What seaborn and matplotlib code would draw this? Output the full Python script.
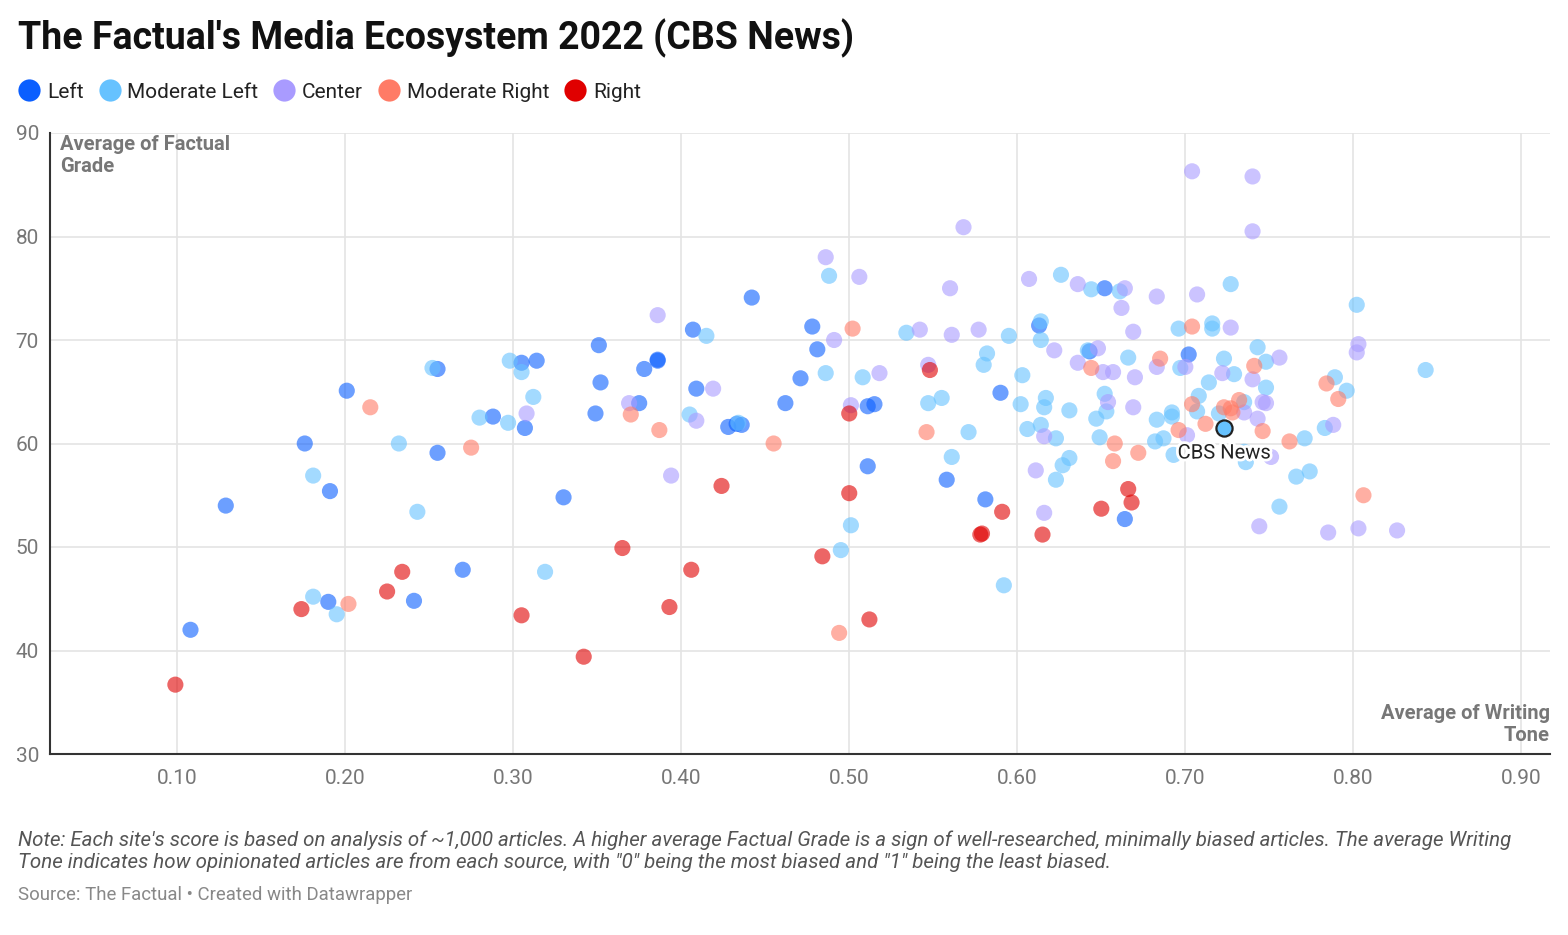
import pandas as pd
import matplotlib.pyplot as plt
import matplotlib.patheffects as pe
from matplotlib.lines import Line2D
import seaborn as sns

# categories and colours
categories = ['Left', 'Moderate Left', 'Center', 'Moderate Right', 'Right']
colors = ['#0b5fff', '#66c2ff', '#a99bff', '#ff7b66', '#e00000']

# Left
left_x = [0.201, 0.255, 0.305, 0.314, 0.288, 0.307, 0.176, 0.255, 0.129, 0.191,
          0.270, 0.190, 0.241, 0.108, 0.330, 0.351, 0.352, 0.349, 0.378, 0.375,
          0.386, 0.386, 0.407, 0.409, 0.428, 0.433, 0.436, 0.442, 0.462, 0.471,
          0.478, 0.481, 0.511, 0.515, 0.511, 0.558, 0.581, 0.590, 0.613, 0.643,
          0.652, 0.664, 0.702]
left_y = [65.1, 67.2, 67.8, 68.0, 62.6, 61.5, 60.0, 59.1, 54.0, 55.4,
          47.8, 44.7, 44.8, 42.0, 54.8, 69.5, 65.9, 62.9, 67.2, 63.9,
          68.1, 68.0, 71.0, 65.3, 61.6, 61.9, 61.8, 74.1, 63.9, 66.3,
          71.3, 69.1, 63.6, 63.8, 57.8, 56.5, 54.6, 64.9, 71.4, 68.9,
          75.0, 52.7, 68.6]

# Moderate Left
modleft_x = [0.488, 0.415, 0.486, 0.508, 0.534, 0.582, 0.580, 0.595, 0.614, 0.614,
             0.603, 0.547, 0.555, 0.602, 0.617, 0.616, 0.571, 0.606, 0.614, 0.623,
             0.626, 0.405, 0.434, 0.561, 0.252, 0.298, 0.305, 0.312, 0.280, 0.297,
             0.232, 0.181, 0.243, 0.181, 0.195, 0.319, 0.501, 0.495, 0.592, 0.623,
             0.627, 0.631, 0.693, 0.736, 0.766, 0.774, 0.756, 0.771, 0.644, 0.661,
             0.631, 0.652, 0.653, 0.647, 0.649, 0.727, 0.696, 0.716, 0.716, 0.802,
             0.843, 0.743, 0.723, 0.748, 0.729, 0.666, 0.642, 0.697, 0.714, 0.748,
             0.789, 0.796, 0.783, 0.708, 0.707, 0.683, 0.692, 0.692, 0.682, 0.687,
             0.735, 0.720, 0.735]
modleft_y = [76.2, 70.4, 66.8, 66.4, 70.7, 68.7, 67.6, 70.4, 71.8, 70.0,
             66.6, 63.9, 64.4, 63.8, 64.4, 63.5, 61.1, 61.4, 61.8, 60.5,
             76.3, 62.8, 62.0, 58.7, 67.3, 68.0, 66.9, 64.5, 62.5, 62.0,
             60.0, 56.9, 53.4, 45.2, 43.5, 47.6, 52.1, 49.7, 46.3, 56.5,
             57.9, 58.6, 58.9, 58.2, 56.8, 57.3, 53.9, 60.5, 74.9, 74.7,
             63.2, 64.8, 63.1, 62.4, 60.6, 75.4, 71.1, 71.6, 71.1, 73.4,
             67.1, 69.3, 68.2, 67.9, 66.7, 68.3, 69.0, 67.3, 65.9, 65.4,
             66.4, 65.1, 61.5, 64.6, 63.1, 62.3, 63.0, 62.6, 60.2, 60.5,
             64.0, 62.9, 59.2]

# Center
center_x = [0.386, 0.369, 0.419, 0.409, 0.486, 0.506, 0.491, 0.518, 0.501, 0.568,
            0.560, 0.542, 0.561, 0.577, 0.547, 0.607, 0.622, 0.616, 0.394, 0.308,
            0.636, 0.664, 0.662, 0.648, 0.636, 0.657, 0.651, 0.654, 0.611, 0.704,
            0.740, 0.740, 0.683, 0.707, 0.669, 0.727, 0.670, 0.683, 0.700, 0.756,
            0.740, 0.722, 0.669, 0.748, 0.746, 0.743, 0.735, 0.701, 0.803, 0.802,
            0.788, 0.744, 0.785, 0.803, 0.826, 0.751, 0.616]
center_y = [72.4, 63.9, 65.3, 62.2, 78.0, 76.1, 70.0, 66.8, 63.7, 80.9,
            75.0, 71.0, 70.5, 71.0, 67.6, 75.9, 69.0, 60.7, 56.9, 62.9,
            75.4, 75.0, 73.1, 69.2, 67.8, 66.9, 66.9, 64.0, 57.4, 86.3,
            85.8, 80.5, 74.2, 74.4, 70.8, 71.2, 66.4, 67.4, 67.4, 68.3,
            66.2, 66.8, 63.5, 63.9, 64.0, 62.4, 63.0, 60.8, 69.6, 68.8,
            61.8, 52.0, 51.4, 51.8, 51.6, 58.7, 53.3]

# Moderate Right
modright_x = [0.215, 0.275, 0.202, 0.370, 0.387, 0.455, 0.502, 0.546, 0.494, 0.644,
              0.658, 0.657, 0.704, 0.685, 0.741, 0.784, 0.791, 0.704, 0.732, 0.723,
              0.727, 0.728, 0.712, 0.746, 0.762, 0.696, 0.672, 0.806]
modright_y = [63.5, 59.6, 44.5, 62.8, 61.3, 60.0, 71.1, 61.1, 41.7, 67.3,
              60.0, 58.3, 71.3, 68.2, 67.5, 65.8, 64.3, 63.8, 64.2, 63.5,
              63.4, 63.0, 61.9, 61.2, 60.2, 61.3, 59.1, 55.0]

# Right
right_x = [0.099, 0.174, 0.225, 0.234, 0.305, 0.342, 0.365, 0.393, 0.406, 0.424,
           0.484, 0.500, 0.512, 0.578, 0.579, 0.591, 0.615, 0.548, 0.500, 0.650,
           0.666, 0.668]
right_y = [36.7, 44.0, 45.7, 47.6, 43.4, 39.4, 49.9, 44.2, 47.8, 55.9,
           49.1, 55.2, 43.0, 51.2, 51.3, 53.4, 51.2, 67.1, 62.9, 53.7,
           55.6, 54.3]

# highlighted site
cbs_x = 0.723
cbs_y = 61.5

x_ticks = [0.10, 0.20, 0.30, 0.40, 0.50, 0.60, 0.70, 0.80, 0.90]
y_ticks = [30, 40, 50, 60, 70, 80, 90]

frames = []
for cat, xs, ys in zip(categories,
                       [left_x, modleft_x, center_x, modright_x, right_x],
                       [left_y, modleft_y, center_y, modright_y, right_y]):
    frames.append(pd.DataFrame({'tone': xs, 'grade': ys, 'bias': cat}))
df = pd.concat(frames, ignore_index=True)

sns.set_style('white')
plt.rcParams['font.family'] = ['Roboto', 'DejaVu Sans']

fig = plt.figure(figsize=(15.68, 9.35), dpi=100)
ax = fig.add_axes([50 / 1568, 1 - 754 / 935, 1500 / 1568, 621 / 935])

sns.scatterplot(data=df, x='tone', y='grade', hue='bias', hue_order=categories,
                palette=colors, s=135, alpha=0.6, linewidth=0, legend=False,
                ax=ax, zorder=3)
ax.scatter([cbs_x], [cbs_y], s=135, color='#66c2ff', edgecolor='#222222',
           linewidth=1.6, zorder=5)
ax.text(cbs_x, cbs_y - 1.5, 'CBS News', ha='center', va='top', fontsize=14.5,
        color='#222222', zorder=6,
        path_effects=[pe.withStroke(linewidth=4, foreground='white')])

ax.set_xlim(0.0244, 0.917)
ax.set_ylim(30, 90)
ax.set_xticks(x_ticks)
ax.set_xticklabels([f'{t:.2f}' for t in x_ticks])
ax.set_yticks(y_ticks)
ax.grid(True, color='#e4e4e4', linewidth=1.2, zorder=0)
ax.set_axisbelow(True)
for side in ['top', 'right']:
    ax.spines[side].set_visible(False)
for side in ['left', 'bottom']:
    ax.spines[side].set_color('#333333')
    ax.spines[side].set_linewidth(1.5)
ax.tick_params(axis='both', length=0, labelsize=15, labelcolor='#777777')
ax.tick_params(axis='x', pad=11)
ax.tick_params(axis='y', pad=8)
ax.set_xlabel('')
ax.set_ylabel('')

ax.text(0.0067, 0.996, 'Average of Factual\nGrade', transform=ax.transAxes,
        ha='left', va='top', fontsize=14.5, fontweight='bold', color='#777777',
        linespacing=1.2, zorder=6)
ax.text(1.0, 0.014, 'Average of Writing\nTone', transform=ax.transAxes,
        ha='right', va='bottom', fontsize=14.5, fontweight='bold', color='#777777',
        linespacing=1.2, zorder=6)

fig.text(18 / 1568, 1 - 38 / 935, "The Factual's Media Ecosystem 2022 (CBS News)",
         ha='left', va='center', fontsize=27, fontweight='bold', color='#111111')

handles = [Line2D([0], [0], marker='o', linestyle='', markersize=16,
                  markerfacecolor=c, markeredgewidth=0, label=lab)
           for lab, c in zip(categories, colors)]
fig.legend(handles=handles, loc='center left', ncol=5, frameon=False,
           bbox_to_anchor=(0 / 1568, 1 - 92 / 935), fontsize=15,
           handlelength=1.0, handletextpad=0.35, columnspacing=0.75,
           labelcolor='#222222')

fig.text(18 / 1568, 1 - 851 / 935,
         'Note: Each site\'s score is based on analysis of ~1,000 articles. A higher average '
         'Factual Grade is a sign of well-researched, minimally biased articles. The average Writing\n'
         'Tone indicates how opinionated articles are from each source, with "0" being the most '
         'biased and "1" being the least biased.',
         ha='left', va='center', fontsize=14.8, style='italic', color='#555555',
         linespacing=1.13)
fig.text(18 / 1568, 1 - 895 / 935, 'Source: The Factual • Created with Datawrapper',
         ha='left', va='center', fontsize=13.4, color='#888888')

fig.savefig('out.png', dpi=100, facecolor='white')
